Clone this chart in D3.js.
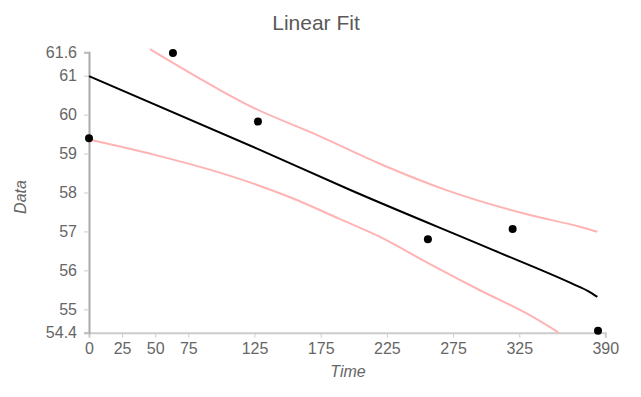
<!DOCTYPE html>
<html>
<head>
<meta charset="utf-8">
<script src="https://cdn.jsdelivr.net/npm/d3@7"></script>
<style>
  html, body { margin: 0; padding: 0; background: #fff; }
  svg { display: block; font-family: "Liberation Sans", Arial, sans-serif; }
</style>
</head>
<body>
<svg id="chart" width="641" height="397"></svg>
<script>
// ---- data ----
const title = "Linear Fit";
const xLabel = "Time";
const yLabel = "Data";
const xTicks = [0, 25, 50, 75, 125, 175, 225, 275, 325, 390];
const yTicks = [54.4, 55, 56, 57, 58, 59, 60, 61, 61.6];

const obsTime = [0, 63.4, 127.6, 256, 320, 384.5];
const obsValue = [59.39, 61.58, 59.82, 56.8, 57.06, 54.45];

const fitTime = [0, 127.4, 197, 305.4, 365, 377, 384];
const fitValue = [60.99, 59.12, 58.07, 56.52, 55.66, 55.47, 55.32];

const upperTime = [46, 99, 121.6, 172, 222.3, 270, 333, 370.8, 384];
const upperValue = [61.68, 60.63, 60.22, 59.48, 58.70, 58.06, 57.42, 57.12, 56.99];

const lowerTime = [0, 50.4, 100.7, 151, 188.8, 219.8, 257.6, 295.3, 333, 354.5];
const lowerValue = [59.36, 58.96, 58.49, 57.89, 57.33, 56.86, 56.16, 55.49, 54.85, 54.41];

// ---- layout ----
const svg = d3.select("#chart");
const x = d3.scaleLinear().domain([0, 390]).range([89, 605.3]);
const y = d3.scaleLinear().domain([54.4, 61.6]).range([332.7, 52.3]);

const textColor = "#666";
const axisColor = "#ccc";

// title
svg.append("text")
  .attr("x", 316).attr("y", 30)
  .attr("text-anchor", "middle")
  .attr("font-size", 21)
  .attr("fill", "#595959")
  .text(title);

// x axis
const xAxis = d3.axisBottom(x).tickValues(xTicks).tickSize(5).tickPadding(5).tickFormat(d3.format("d"));
const gx = svg.append("g").attr("transform", `translate(0,${y(54.4)})`).call(xAxis);
gx.select(".domain").attr("stroke", axisColor).attr("stroke-width", 2);
gx.selectAll(".tick line").attr("stroke", axisColor).attr("stroke-width", 1);
gx.selectAll(".tick text").attr("fill", textColor).attr("font-size", 16)
  .attr("font-family", "'Liberation Sans', Arial, sans-serif");

// y axis
const yAxis = d3.axisLeft(y).tickValues(yTicks).tickSize(5).tickPadding(7)
  .tickFormat(d => (Number.isInteger(d) ? d3.format("d")(d) : d3.format(".1f")(d)));
const gy = svg.append("g").attr("transform", `translate(${x(0)},0)`).call(yAxis);
gy.select(".domain").attr("stroke", "#aaa").attr("stroke-width", 2);
gy.selectAll(".tick line").attr("stroke", axisColor).attr("stroke-width", 1);
gy.selectAll(".tick text").attr("fill", textColor).attr("font-size", 16)
  .attr("font-family", "'Liberation Sans', Arial, sans-serif");

// axis titles
svg.append("text")
  .attr("x", 348).attr("y", 377)
  .attr("text-anchor", "middle")
  .attr("font-size", 16).attr("font-style", "italic")
  .attr("fill", textColor)
  .text(xLabel);
svg.append("text")
  .attr("transform", "translate(26,197) rotate(-90)")
  .attr("text-anchor", "middle")
  .attr("font-size", 16).attr("font-style", "italic")
  .attr("fill", textColor)
  .text(yLabel);

// lines
const line = d3.line().x(d => x(d[0])).y(d => y(d[1])).curve(d3.curveMonotoneX);
const zip = (a, b) => a.map((v, i) => [v, b[i]]);

svg.append("path").datum(zip(upperTime, upperValue))
  .attr("d", line).attr("fill", "none").attr("stroke", "#ffb3b3").attr("stroke-width", 2);
svg.append("path").datum(zip(lowerTime, lowerValue))
  .attr("d", line).attr("fill", "none").attr("stroke", "#ffb3b3").attr("stroke-width", 2);
svg.append("path").datum(zip(fitTime, fitValue))
  .attr("d", line).attr("fill", "none").attr("stroke", "#000").attr("stroke-width", 2);

// points
svg.append("g").selectAll("circle").data(zip(obsTime, obsValue)).join("circle")
  .attr("cx", d => x(d[0])).attr("cy", d => y(d[1])).attr("r", 4).attr("fill", "#000");
</script>
</body>
</html>
